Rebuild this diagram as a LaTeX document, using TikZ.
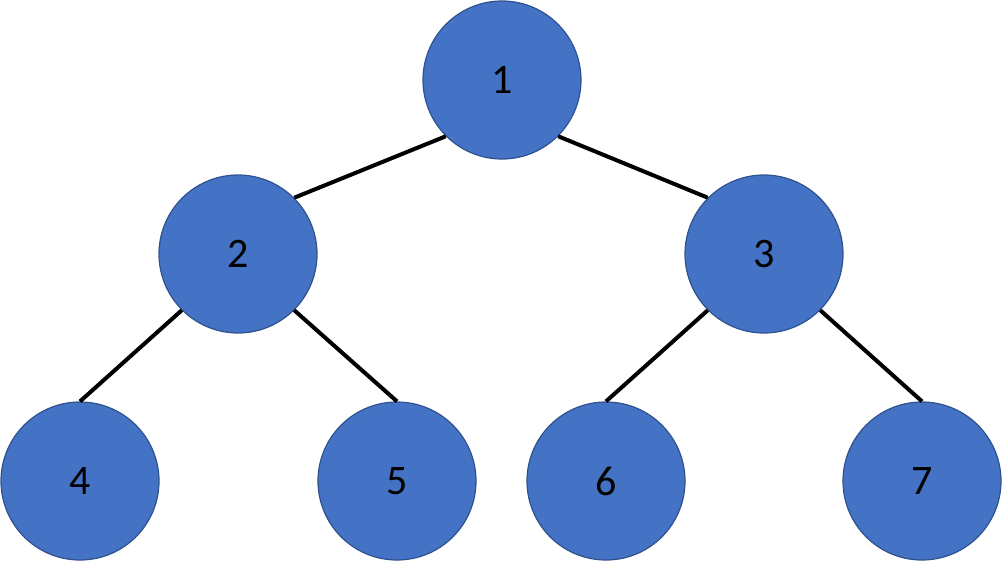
\documentclass[tikz,border=0pt]{standalone}
\usepackage{fontspec}
\setmainfont{Carlito}
\definecolor{nodefill}{HTML}{4472C4}
\definecolor{nodeline}{HTML}{2F528F}
\begin{document}
\begin{tikzpicture}[x=1pt,y=-1pt,
  treenode/.style={circle, fill=nodefill, draw=nodeline, line width=1.2pt, minimum size=158pt, inner sep=0pt, font=\fontsize{42}{42}\selectfont},
  edge/.style={line width=4pt, black}]
\useasboundingbox (0,0) rectangle (1004,560);
\node[treenode] (n1) at (502,80) {1};
\node[treenode] (n2) at (238,254) {2};
\node[treenode] (n3) at (764,254) {3};
\node[treenode] (n4) at (80,481) {4};
\node[treenode] (n5) at (397,481) {5};
\node[treenode] (n6) at (606,481) {6};
\node[treenode] (n7) at (922,481) {7};
\draw[edge] (n1.south west) -- (n2.north east);
\draw[edge] (n1.south east) -- (n3.north west);
\draw[edge] (n2.south west) -- (n4.north);
\draw[edge] (n2.south east) -- (n5.north);
\draw[edge] (n3.south west) -- (n6.north);
\draw[edge] (n3.south east) -- (n7.north);
\end{tikzpicture}
\end{document}
